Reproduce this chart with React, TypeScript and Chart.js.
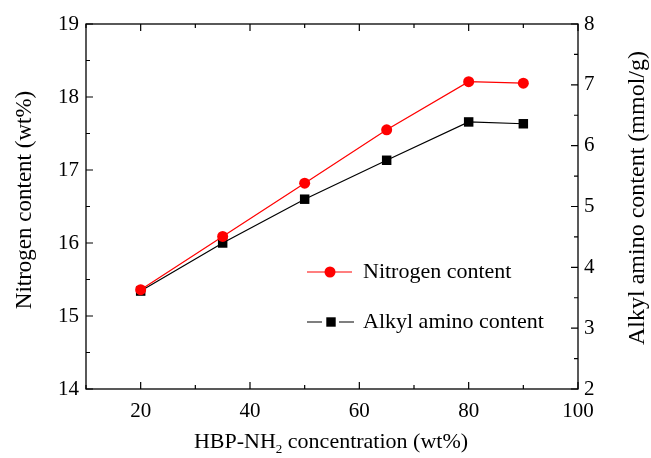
import React, { useEffect, useRef } from "react";
import { Chart, registerables } from "chart.js";

Chart.register(...registerables);

const concentrations = [20, 35, 50, 65, 80, 90];
const nitrogenContent = [15.36, 16.09, 16.82, 17.55, 18.21, 18.19];
const alkylAminoContent = [3.61, 4.4, 5.12, 5.76, 6.39, 6.36];
const xTicks = [20, 40, 60, 80, 100];
const xMinorTicks = [10, 30, 50, 70, 90];
const leftTicks = [14, 15, 16, 17, 18, 19];
const leftMinorTicks = [14.5, 15.5, 16.5, 17.5, 18.5];
const rightTicks = [2, 3, 4, 5, 6, 7, 8];
const rightMinorTicks = [2.5, 3.5, 4.5, 5.5, 6.5, 7.5];

const FONT = "'Liberation Serif', 'Times New Roman', serif";

const framePlugin = {
  id: "frame",
  afterDraw(chart: any) {
    const { ctx, chartArea } = chart;
    const { left, right, top, bottom } = chartArea;
    const xs = chart.scales.x;
    const yl = chart.scales.y;
    const yr = chart.scales.y1;
    ctx.save();
    ctx.strokeStyle = "#000";
    ctx.lineWidth = 1.3;
    ctx.strokeRect(left, top, right - left, bottom - top);
    ctx.lineWidth = 1.2;
    const major = 7;
    const minor = 4;
    ctx.beginPath();
    xTicks.forEach((v) => {
      const p = xs.getPixelForValue(v);
      ctx.moveTo(p, bottom);
      ctx.lineTo(p, bottom - major);
      ctx.moveTo(p, top);
      ctx.lineTo(p, top + major);
    });
    xMinorTicks.forEach((v) => {
      const p = xs.getPixelForValue(v);
      ctx.moveTo(p, bottom);
      ctx.lineTo(p, bottom - minor);
      ctx.moveTo(p, top);
      ctx.lineTo(p, top + minor);
    });
    leftTicks.forEach((v) => {
      const p = yl.getPixelForValue(v);
      ctx.moveTo(left, p);
      ctx.lineTo(left + major, p);
    });
    leftMinorTicks.forEach((v) => {
      const p = yl.getPixelForValue(v);
      ctx.moveTo(left, p);
      ctx.lineTo(left + minor, p);
    });
    rightTicks.forEach((v) => {
      const p = yr.getPixelForValue(v);
      ctx.moveTo(right, p);
      ctx.lineTo(right - major, p);
    });
    rightMinorTicks.forEach((v) => {
      const p = yr.getPixelForValue(v);
      ctx.moveTo(right, p);
      ctx.lineTo(right - minor, p);
    });
    ctx.stroke();

    // axis titles
    ctx.fillStyle = "#000";
    ctx.textAlign = "center";
    ctx.textBaseline = "middle";
    ctx.save();
    ctx.font = `23px ${FONT}`;
    ctx.translate(25, 200);
    ctx.rotate(-Math.PI / 2);
    ctx.fillText("Nitrogen content (wt%)", 0, 0);
    ctx.restore();
    ctx.save();
    ctx.font = `24px ${FONT}`;
    ctx.translate(638, 198);
    ctx.rotate(-Math.PI / 2);
    ctx.fillText("Alkyl amino content (mmol/g)", 0, 0);
    ctx.restore();

    // x title with subscript
    const part1 = "HBP-NH";
    const sub = "2";
    const part2 = " concentration (wt%)";
    ctx.textAlign = "left";
    ctx.textBaseline = "alphabetic";
    ctx.font = `22px ${FONT}`;
    const w1 = ctx.measureText(part1).width;
    const w3 = ctx.measureText(part2).width;
    ctx.font = `13px ${FONT}`;
    const w2 = ctx.measureText(sub).width;
    const total = w1 + w2 + w3;
    const cx = (left + right) / 2;
    const x0 = cx - total / 2 - 1;
    const base = 448;
    ctx.font = `22px ${FONT}`;
    ctx.fillText(part1, x0, base);
    ctx.font = `13px ${FONT}`;
    ctx.fillText(sub, x0 + w1, base + 5);
    ctx.font = `22px ${FONT}`;
    ctx.fillText(part2, x0 + w1 + w2, base);

    // legend
    const lx = left + 221;
    const y1 = top + 248;
    const y2 = top + 298;
    ctx.strokeStyle = "#ff0000";
    ctx.lineWidth = 1.2;
    ctx.beginPath();
    ctx.moveTo(lx, y1);
    ctx.lineTo(lx + 45, y1);
    ctx.stroke();
    ctx.fillStyle = "#ff0000";
    ctx.beginPath();
    ctx.arc(lx + 23, y1, 5.5, 0, Math.PI * 2);
    ctx.fill();
    ctx.strokeStyle = "#000";
    ctx.beginPath();
    ctx.moveTo(lx, y2);
    ctx.lineTo(lx + 15, y2);
    ctx.moveTo(lx + 32, y2);
    ctx.lineTo(lx + 47, y2);
    ctx.stroke();
    ctx.fillStyle = "#000";
    ctx.fillRect(lx + 24 - 4.7, y2 - 4.7, 9.4, 9.4);
    ctx.font = `22px ${FONT}`;
    ctx.textBaseline = "middle";
    ctx.textAlign = "left";
    ctx.fillText("Nitrogen content", lx + 56, y1);
    ctx.fillText("Alkyl amino content", lx + 56, y2);
    ctx.restore();
  },
};

export default function App() {
  const ref = useRef<HTMLCanvasElement | null>(null);
  useEffect(() => {
    if (!ref.current) return;
    const chart = new Chart(ref.current, {
      type: "line",
      data: {
        datasets: [
          {
            label: "Nitrogen content",
            data: concentrations.map((x, i) => ({ x, y: nitrogenContent[i] })),
            borderColor: "#ff0000",
            backgroundColor: "#ff0000",
            borderWidth: 1.2,
            pointStyle: "circle",
            pointRadius: 5.5,
            pointBorderWidth: 0,
            yAxisID: "y",
          },
          {
            label: "Alkyl amino content",
            data: concentrations.map((x, i) => ({ x, y: alkylAminoContent[i] })),
            borderColor: "#000",
            backgroundColor: "#000",
            borderWidth: 1.2,
            pointStyle: "rect",
            pointRadius: 6.7,
            pointBorderWidth: 0,
            yAxisID: "y1",
          },
        ],
      },
      options: {
        responsive: false,
        animation: false,
        devicePixelRatio: 1,
        layout: { padding: { top: 24, left: 0, right: 0, bottom: 0 } },
        plugins: { legend: { display: false }, tooltip: { enabled: false } },
        scales: {
          x: {
            type: "linear",
            min: 10,
            max: 100,
            afterBuildTicks: (s: any) => {
              s.ticks = xTicks.map((v) => ({ value: v }));
            },
            afterFit: (s: any) => {
              s.height = 69;
            },
            grid: { display: false, drawTicks: false },
            border: { display: false },
            ticks: {
              padding: 10,
              color: "#000",
              font: { family: FONT, size: 21 },
              maxRotation: 0,
            },
          },
          y: {
            type: "linear",
            position: "left",
            min: 14,
            max: 19,
            afterBuildTicks: (s: any) => {
              s.ticks = leftTicks.map((v) => ({ value: v }));
            },
            afterFit: (s: any) => {
              s.width = 86;
            },
            grid: { display: false, drawTicks: false },
            border: { display: false },
            ticks: {
              padding: 7,
              color: "#000",
              font: { family: FONT, size: 21 },
            },
          },
          y1: {
            type: "linear",
            position: "right",
            min: 2,
            max: 8,
            afterBuildTicks: (s: any) => {
              s.ticks = rightTicks.map((v) => ({ value: v }));
            },
            afterFit: (s: any) => {
              s.width = 73;
            },
            grid: { display: false, drawTicks: false },
            border: { display: false },
            ticks: {
              padding: 6,
              color: "#000",
              font: { family: FONT, size: 21 },
            },
          },
        },
      },
      plugins: [framePlugin],
    });
    return () => chart.destroy();
  }, []);
  return (
    <div style={{ position: "absolute", left: 0, top: 0, width: 651, height: 458, background: "#fff" }}>
      <canvas ref={ref} width={651} height={458} />
    </div>
  );
}
